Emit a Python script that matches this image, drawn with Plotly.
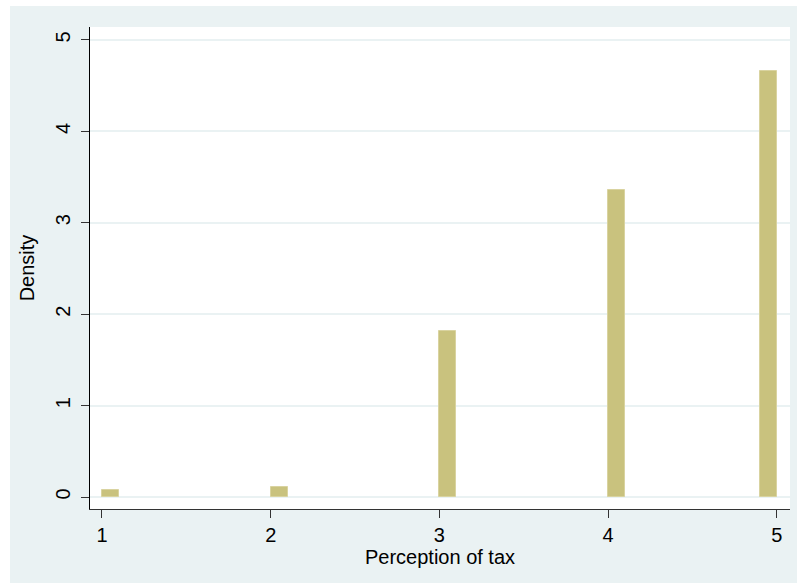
import plotly.graph_objects as go

# Histogram of "Perception of tax": left edge of each occupied bin and its density
bin_starts = [1.0, 2.0, 3.0, 4.0, 4.9]
densities = [0.08, 0.11, 1.82, 3.36, 4.66]
bin_width = 0.1

x_ticks = [1, 2, 3, 4, 5]
y_ticks = [0, 1, 2, 3, 4, 5]

BG = "#EAF2F3"
BAR = "#C9C27E"
BAR_EDGE = "#D9D3A0"
FONT = "Liberation Sans, Arial, sans-serif"

fig = go.Figure(
    go.Bar(
        x=bin_starts,
        y=densities,
        width=[bin_width] * len(bin_starts),
        offset=0,
        marker=dict(color=BAR, line=dict(color=BAR_EDGE, width=1)),
        hoverinfo="x+y",
    )
)

fig.update_layout(
    width=798,
    height=583,
    margin=dict(l=90, r=8, t=27, b=74),
    paper_bgcolor=BG,
    plot_bgcolor="white",
    showlegend=False,
    font=dict(family=FONT, size=20, color="black"),
    bargap=0,
    xaxis=dict(
        range=[0.929, 5.078],
        tickvals=x_ticks,
        ticks="outside",
        ticklen=8,
        tickwidth=1,
        tickcolor="#333333",
        showline=True,
        linecolor="#333333",
        linewidth=1,
        showgrid=False,
        zeroline=False,
        title=dict(text="Perception of tax", font=dict(size=20), standoff=1),
        tickfont=dict(size=20),
    ),
    yaxis=dict(
        range=[-0.131, 5.142],
        tickvals=y_ticks,
        tickangle=-90,
        ticks="outside",
        ticklen=8,
        tickwidth=1,
        tickcolor="#333333",
        showline=True,
        linecolor="black",
        linewidth=1,
        showgrid=True,
        gridcolor=BG,
        gridwidth=2,
        zeroline=False,
        ticklabelstandoff=3,
        title=dict(text="Density", font=dict(size=20), standoff=12),
        tickfont=dict(size=20),
    ),
)

# White page strips around the shaded graph region (left, top, right edges)
for x0, x1, y0, y1 in [
    (-90 / 700, -80 / 700, -74 / 482, 1 + 27 / 482),
    (-90 / 700, 1 + 8 / 700, 1 + 21 / 482, 1 + 27 / 482),
    (1 + 7 / 700, 1 + 8 / 700, -74 / 482, 1 + 27 / 482),
]:
    fig.add_shape(
        type="rect", xref="paper", yref="paper",
        x0=x0, x1=x1, y0=y0, y1=y1,
        fillcolor="white", line=dict(width=0), layer="below",
    )

fig.write_html("out.html")
